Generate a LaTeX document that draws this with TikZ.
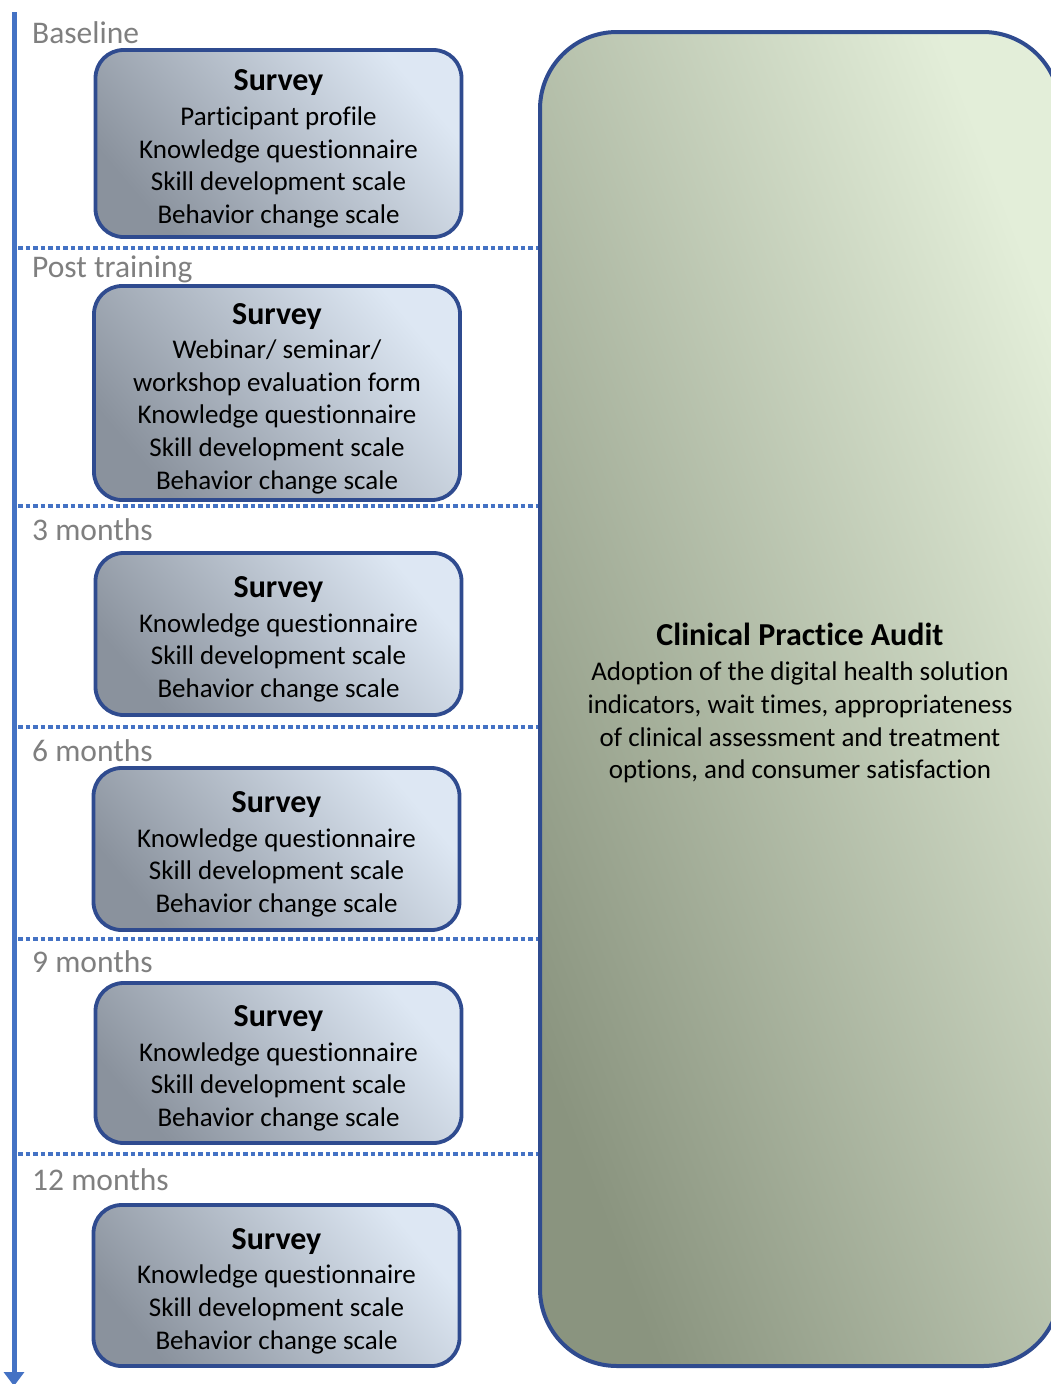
\documentclass[tikz,border=0pt]{standalone}
\usepackage{fontspec}
\setmainfont{Carlito}[Ligatures=NoCommon]
\usetikzlibrary{arrows.meta,positioning}

\definecolor{lineblue}{HTML}{4472C4}
\definecolor{boxline}{HTML}{2F4B8F}
\definecolor{surveydark}{HTML}{8A929D}
\definecolor{surveylight}{HTML}{DDE7F3}
\definecolor{auditdark}{HTML}{8A947F}
\definecolor{auditlight}{HTML}{E3EED9}
\definecolor{stagegray}{HTML}{7F7F7F}

\newcommand{\bodyfont}{\fontsize{27}{32.6}\selectfont}
\newcommand{\headfont}{\fontsize{32}{36}\selectfont\bfseries}
% survey heading, with a strut that pushes the block down a little
\newcommand{\surveyhead}{{\headfont\rule{0pt}{32pt}Survey}\\[2pt]}

\tikzset{
  surveybox/.style={
    rectangle, rounded corners=28pt, draw=boxline, line width=3.8pt,
    minimum width=366pt, inner sep=0pt, align=center,
    left color=surveydark, right color=surveylight, shading angle=130,
    font=\bodyfont
  },
  auditbox/.style={
    rectangle, rounded corners=77pt, draw=boxline, line width=4pt,
    minimum width=520pt, minimum height=1334pt, inner sep=0pt, align=center,
    left color=auditdark, right color=auditlight, shading angle=111,
    font=\bodyfont
  },
  stage/.style={anchor=base west, inner sep=0pt, text=stagegray,
    font=\fontsize{31.5}{36}\selectfont},
  sepline/.style={lineblue, line width=4pt, dash pattern=on 4.5pt off 3pt},
  timeline/.style={lineblue, line width=5pt,
    -{Triangle[length=14pt,width=20pt]}}
}

\begin{document}
\begin{tikzpicture}[x=1pt, y=-1pt]

\useasboundingbox (0,0) rectangle (1051,1384);

% time axis
\coordinate (tstart) at (14,12);
\coordinate (tend) at (14,1386);
\draw[timeline] (tstart) -- (tend);

% audit running along the whole period
\node[auditbox] (audit) at (800,699)
  {{\headfont\rule{0pt}{30.5pt}Clinical Practice Audit}\\[3pt]
   Adoption of the digital health solution\\
   indicators, wait times, appropriateness\\
   of clinical assessment and treatment\\
   options, and consumer satisfaction};

% separators between the time points
\foreach \y/\name in {248/sa, 506/sb, 727/sc, 939/sd, 1154/se} {
  \coordinate (\name) at (18,\y);
  \draw[sepline] (\name) -- (\name -| audit.west);
}

% time points
\node[stage] (lbase) at (32,43) {Baseline};
\node[stage] (lpost) at (32,277) {Post training};
\node[stage] (lthree) at (32,540) {3 months};
\node[stage] (lsix) at (32,761) {6 months};
\node[stage] (lnine) at (32,972) {9 months};
\node[stage] (ltwelve) at (32,1190) {12 months};

% surveys
\node[surveybox, minimum height=187pt] (sbase) at (278.5,143.5)
  {\surveyhead
   Participant profile\\
   Knowledge questionnaire\\
   Skill development scale\\
   Behavior change scale};

\node[surveybox, minimum height=214pt] (spost) at (277,393)
  {\surveyhead
   Webinar/ seminar/\\
   workshop evaluation form\\
   Knowledge questionnaire\\
   Skill development scale\\
   Behavior change scale};

\node[surveybox, minimum height=162pt] (sthree) at (278.5,634)
  {\surveyhead
   Knowledge questionnaire\\
   Skill development scale\\
   Behavior change scale};

\node[surveybox, minimum height=162pt] (ssix) at (276.5,849)
  {\surveyhead
   Knowledge questionnaire\\
   Skill development scale\\
   Behavior change scale};

\node[surveybox, minimum height=160pt] (snine) at (278.5,1063)
  {\surveyhead
   Knowledge questionnaire\\
   Skill development scale\\
   Behavior change scale};

\node[surveybox, minimum height=161pt] (stwelve) at (276.5,1285.5)
  {\surveyhead
   Knowledge questionnaire\\
   Skill development scale\\
   Behavior change scale};

\end{tikzpicture}
\end{document}
